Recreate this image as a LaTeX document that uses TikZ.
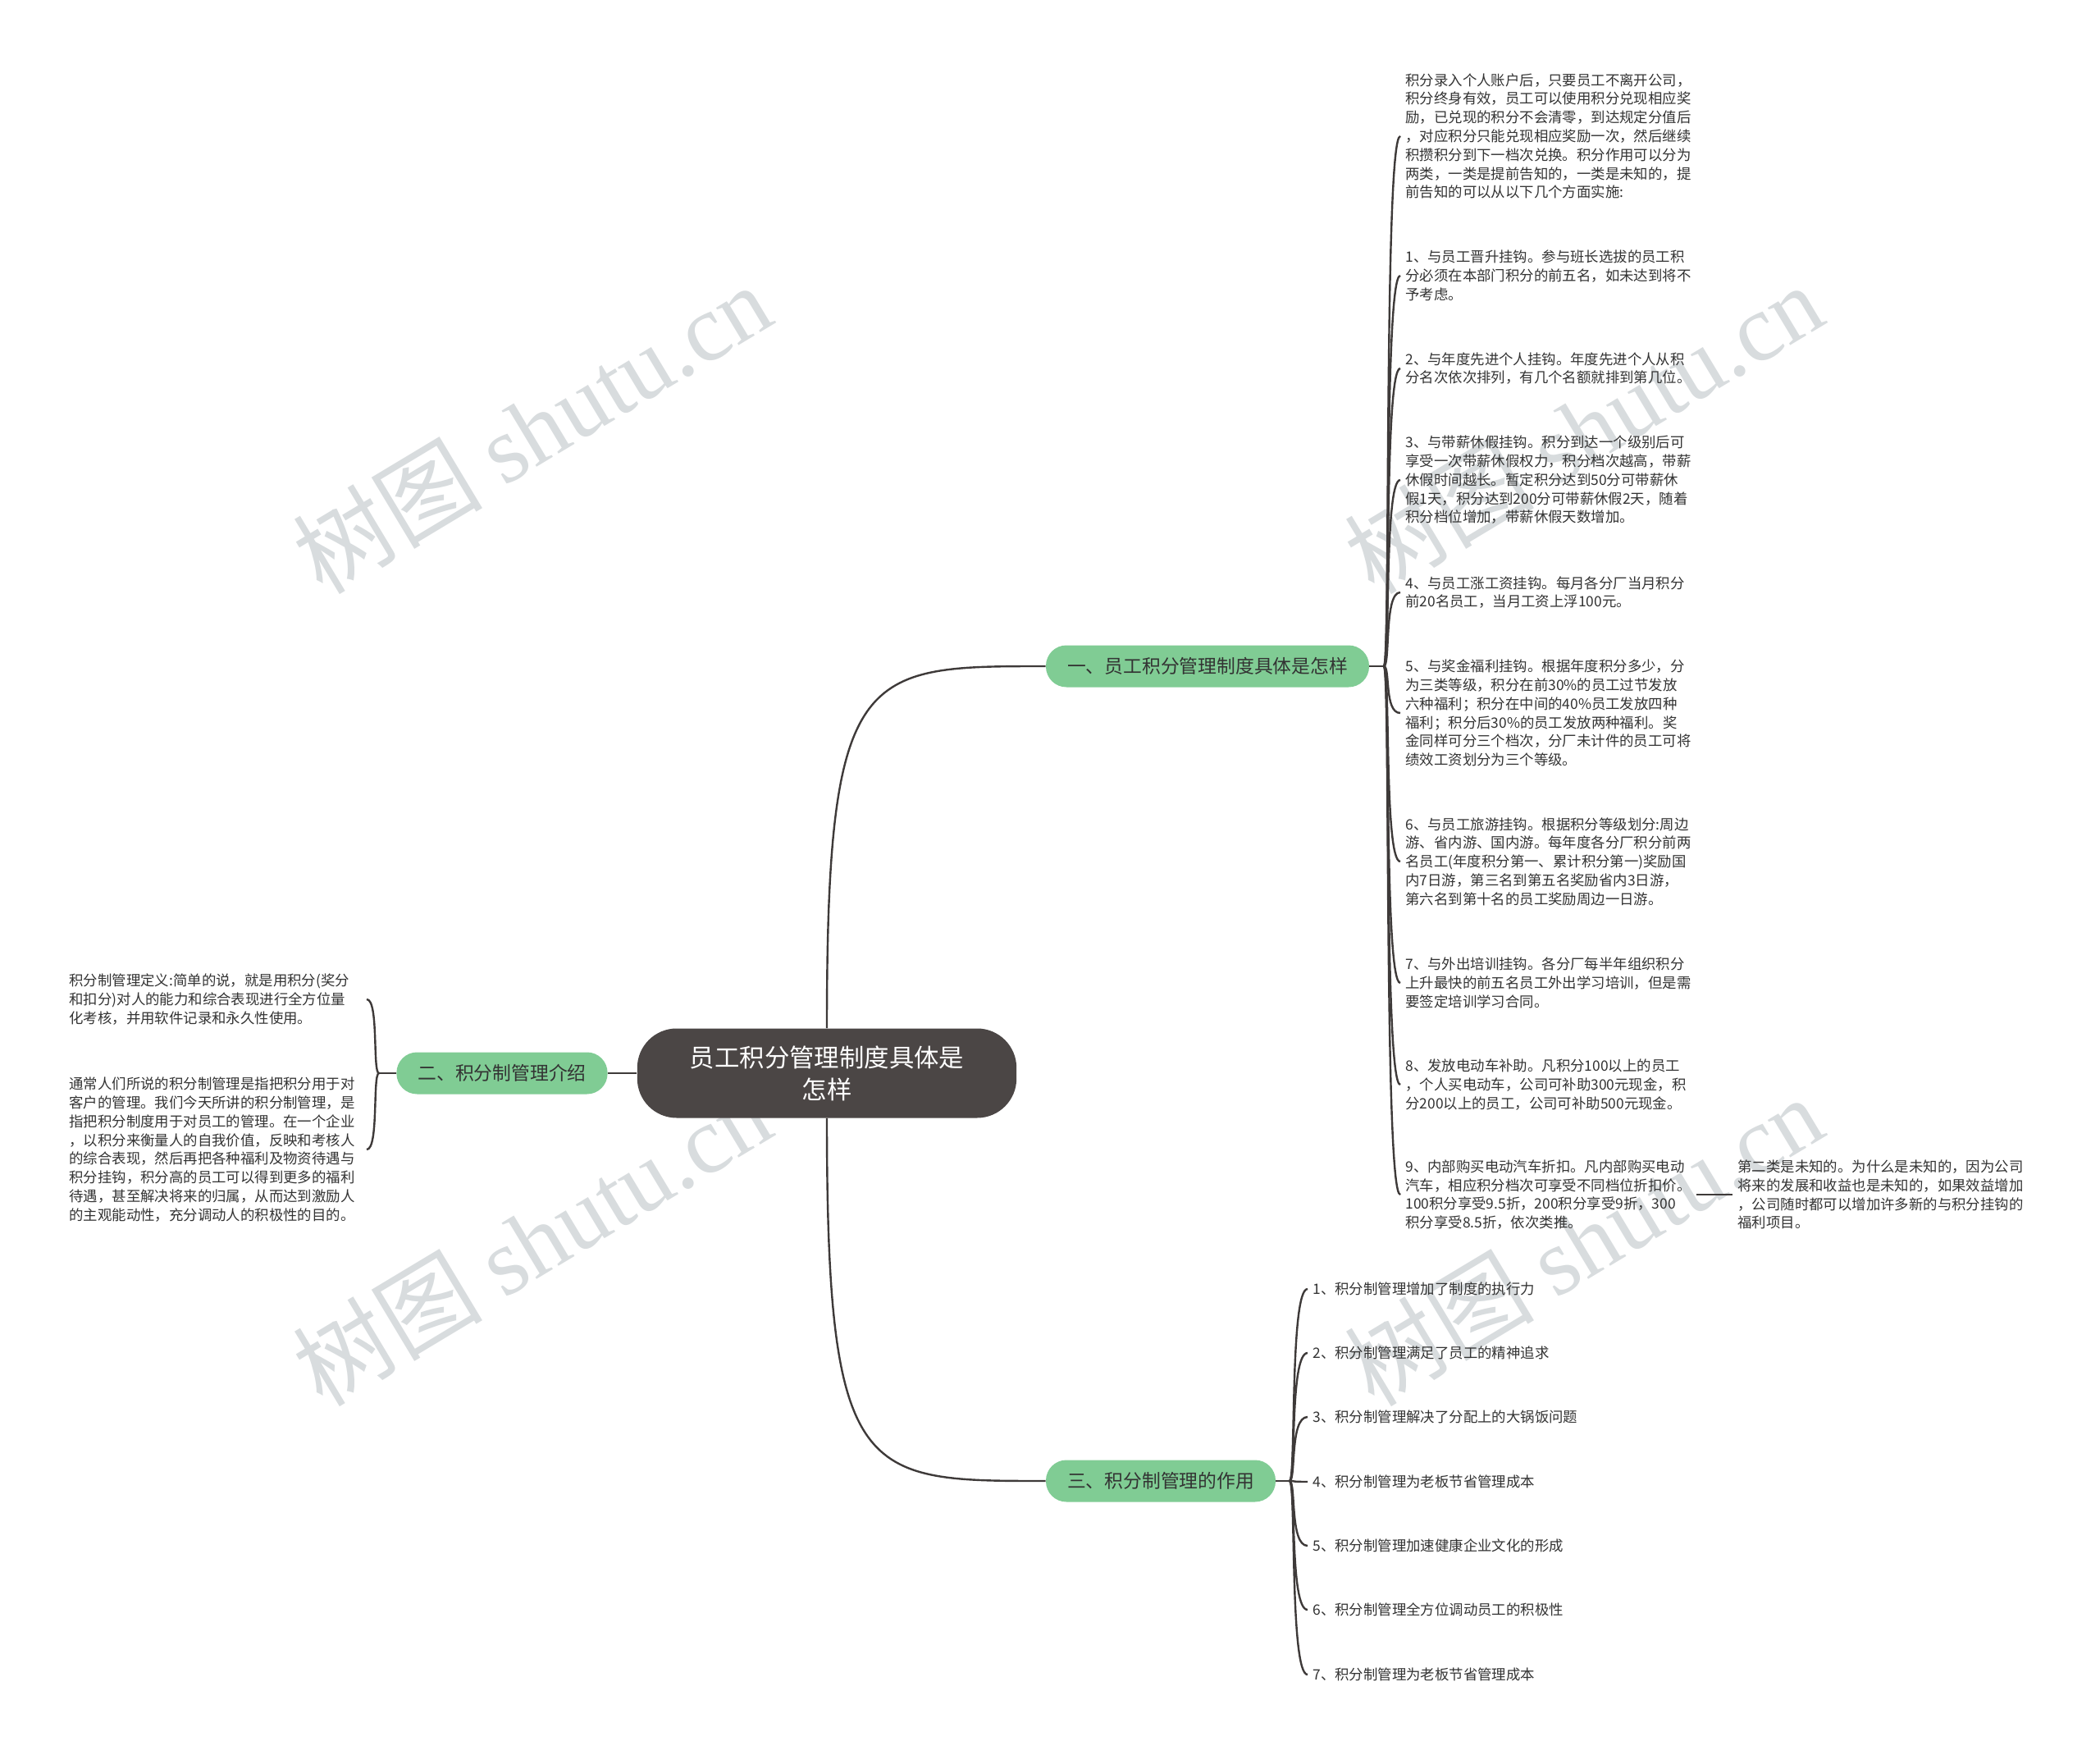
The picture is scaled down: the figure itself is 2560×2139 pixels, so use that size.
\documentclass[tikz,border=0pt]{standalone}
\usepackage{fontspec}
\setmainfont{Noto Sans CJK SC}
\newfontfamily\wmlatin{Liberation Serif}
\usetikzlibrary{calc}
\definecolor{lineC}{HTML}{3E3A39}
\definecolor{ctrC}{HTML}{4B4645}
\definecolor{pillC}{HTML}{80CC94}
\definecolor{txtC}{HTML}{333333}
\definecolor{wmC}{HTML}{D8DCDE}
\tikzset{
  leaf/.style={anchor=west, inner xsep=3pt, inner ysep=2pt, align=left, text=txtC, font=\fontsize{8.7}{11.4}\selectfont},
  pill/.style={fill=pillC, rounded corners=12.5pt, minimum height=25.5pt, inner xsep=13pt, inner ysep=0pt, text=txtC, font=\fontsize{11.4}{13}\selectfont},
  ctrbox/.style={fill=ctrC, rounded corners=24pt, minimum height=54.5pt, inner xsep=32pt, text=white, align=center, font=\fontsize{15.2}{19.5}\selectfont},
  conn/.style={draw=lineC, line width=1.2pt},
  wm/.style={text=wmC, rotate=31, inner sep=0pt, font=\fontsize{58}{58}\selectfont}
}
\begin{document}
\begin{tikzpicture}[x=0.5pt,y=-0.5pt]
\useasboundingbox (0,0) rectangle (2560,2139);
\fill[white] (0,0) rectangle (2560,2139);
% watermarks
\node[wm] (w1) at (648,522) {树图 {\wmlatin shutu.cn}};
\node[wm] (w2) at (1930,522) {树图 {\wmlatin shutu.cn}};
\node[wm] (w3) at (648,1512) {树图 {\wmlatin shutu.cn}};
\node[wm] (w4) at (1930,1512) {树图 {\wmlatin shutu.cn}};
% main nodes
\node[ctrbox] (ctr) at (1008,1308) {员工积分管理制度具体是\\怎样};
\node[pill] (b1) at (1472,812) {一、员工积分管理制度具体是怎样};
\node[pill] (b2) at (612,1308) {二、积分制管理介绍};
\node[pill] (b3) at (1415,1805) {三、积分制管理的作用};
\coordinate (j1) at (1687,812);
\coordinate (j2) at (462,1308);
\coordinate (j3) at (1572,1805);
% branch 1 leaves
\node[leaf] (c0) at (1707,166) {积分录入个人账户后，只要员工不离开公司，\\积分终身有效，员工可以使用积分兑现相应奖\\励，已兑现的积分不会清零，到达规定分值后\\，对应积分只能兑现相应奖励一次，然后继续\\积攒积分到下一档次兑换。积分作用可以分为\\两类，一类是提前告知的，一类是未知的，提\\前告知的可以从以下几个方面实施:};
\node[leaf] (c1) at (1707,336) {1、与员工晋升挂钩。参与班长选拔的员工积\\分必须在本部门积分的前五名，如未达到将不\\予考虑。};
\node[leaf] (c2) at (1707,449) {2、与年度先进个人挂钩。年度先进个人从积\\分名次依次排列，有几个名额就排到第几位。};
\node[leaf] (c3) at (1707,585) {3、与带薪休假挂钩。积分到达一个级别后可\\享受一次带薪休假权力，积分档次越高，带薪\\休假时间越长。暂定积分达到50分可带薪休\\假1天，积分达到200分可带薪休假2天，随着\\积分档位增加，带薪休假天数增加。};
\node[leaf] (c4) at (1707,722) {4、与员工涨工资挂钩。每月各分厂当月积分\\前20名员工，当月工资上浮100元。};
\node[leaf] (c5) at (1707,869) {5、与奖金福利挂钩。根据年度积分多少，分\\为三类等级，积分在前30\%的员工过节发放\\六种福利；积分在中间的40\%员工发放四种\\福利；积分后30\%的员工发放两种福利。奖\\金同样可分三个档次，分厂未计件的员工可将\\绩效工资划分为三个等级。};
\node[leaf] (c6) at (1707,1050) {6、与员工旅游挂钩。根据积分等级划分:周边\\游、省内游、国内游。每年度各分厂积分前两\\名员工(年度积分第一、累计积分第一)奖励国\\内7日游，第三名到第五名奖励省内3日游，\\第六名到第十名的员工奖励周边一日游。};
\node[leaf] (c7) at (1707,1198) {7、与外出培训挂钩。各分厂每半年组织积分\\上升最快的前五名员工外出学习培训，但是需\\要签定培训学习合同。};
\node[leaf] (c8) at (1707,1322) {8、发放电动车补助。凡积分100以上的员工\\，个人买电动车，公司可补助300元现金，积\\分200以上的员工，公司可补助500元现金。};
\node[leaf] (c9) at (1707,1456) {9、内部购买电动汽车折扣。凡内部购买电动\\汽车，相应积分档次可享受不同档位折扣价。\\100积分享受9.5折，200积分享受9折，300\\积分享受8.5折，依次类推。};
\node[leaf] (c9a) at (2112,1456) {第二类是未知的。为什么是未知的，因为公司\\将来的发展和收益也是未知的，如果效益增加\\，公司随时都可以增加许多新的与积分挂钩的\\福利项目。};
% branch 2 leaves
\node[leaf, anchor=east, text width=178pt] (d0) at (447,1218) {积分制管理定义:简单的说，就是用积分(奖分\\和扣分)对人的能力和综合表现进行全方位量\\化考核，并用软件记录和永久性使用。};
\node[leaf, anchor=east, text width=178pt] (d1) at (447,1401) {通常人们所说的积分制管理是指把积分用于对\\客户的管理。我们今天所讲的积分制管理，是\\指把积分制度用于对员工的管理。在一个企业\\，以积分来衡量人的自我价值，反映和考核人\\的综合表现，然后再把各种福利及物资待遇与\\积分挂钩，积分高的员工可以得到更多的福利\\待遇，甚至解决将来的归属，从而达到激励人\\的主观能动性，充分调动人的积极性的目的。};
% branch 3 leaves
\node[leaf] (e1) at (1594,1571) {1、积分制管理增加了制度的执行力};
\node[leaf] (e2) at (1594,1649) {2、积分制管理满足了员工的精神追求};
\node[leaf] (e3) at (1594,1727) {3、积分制管理解决了分配上的大锅饭问题};
\node[leaf] (e4) at (1594,1806) {4、积分制管理为老板节省管理成本};
\node[leaf] (e5) at (1594,1884) {5、积分制管理加速健康企业文化的形成};
\node[leaf] (e6) at (1594,1962) {6、积分制管理全方位调动员工的积极性};
\node[leaf] (e7) at (1594,2041) {7、积分制管理为老板节省管理成本};
% connectors from centre
\draw[conn] (ctr.north) .. controls (1008,812) and (1050,812) .. (b1.west);
\draw[conn] (ctr.south) .. controls (1008,1805) and (1050,1805) .. (b3.west);
\draw[conn] (ctr.west) -- (b2.east);
% branch 1
\draw[conn] (b1.east) -- (j1);
\foreach \n in {c0,c1,c2,c3,c4,c5,c6,c7,c8,c9}{
  \draw[conn] (j1) .. controls ($(j1)+(8,0)$) and (j1 |- \n.west) .. (\n.west);
}
\draw[conn] (c9.east) -- (c9a.west);
% branch 2
\draw[conn] (b2.west) -- (j2);
\foreach \n in {d0,d1}{
  \draw[conn] (j2) .. controls ($(j2)+(-8,0)$) and (j2 |- \n.east) .. (\n.east);
}
% branch 3
\draw[conn] (b3.east) -- (j3);
\foreach \n in {e1,e2,e3,e4,e5,e6,e7}{
  \draw[conn] (j3) .. controls ($(j3)+(8,0)$) and (j3 |- \n.west) .. (\n.west);
}
\end{tikzpicture}
\end{document}
